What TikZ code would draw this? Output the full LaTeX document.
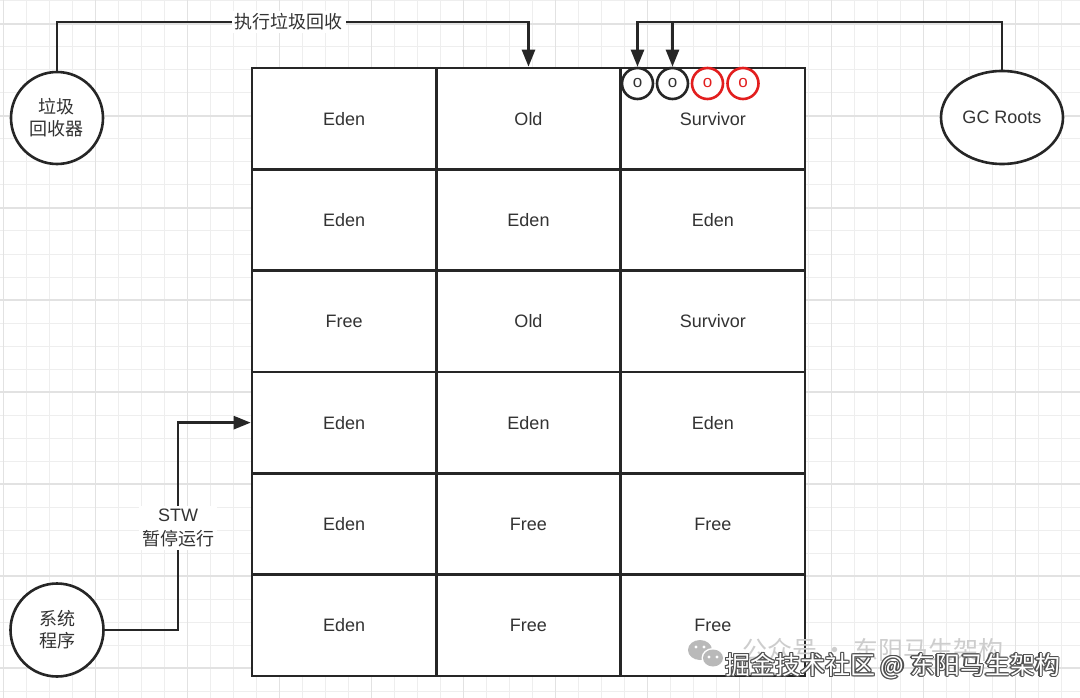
\documentclass[tikz,border=0pt]{standalone}
\usepackage{fontspec}
\setmainfont{Liberation Sans}
\newfontfamily\cjk{Noto Sans CJK SC}
\usetikzlibrary{arrows.meta,calc,shapes.geometric}
\definecolor{ink}{RGB}{38,38,38}
\definecolor{txt}{RGB}{51,51,51}
\definecolor{gcred}{RGB}{226,30,30}
\definecolor{gridminor}{RGB}{238,238,238}
\definecolor{gridmajor}{RGB}{226,226,226}
\definecolor{wmgrey}{RGB}{205,205,205}
\definecolor{wmdark}{RGB}{80,80,80}
\definecolor{wmicon}{RGB}{185,185,185}
\tikzset{
  cell/.style={rectangle, draw=ink, line width=2.6pt, fill=white,
    minimum width=184.33pt, minimum height=101.33pt, inner sep=0pt,
    font=\fontsize{18}{21}\selectfont, text=txt},
  conn/.style={draw=ink, line width=2.6pt, -{Triangle[length=17pt,width=13pt]}},
  bigcirc/.style={circle, draw=ink, line width=2.6pt, fill=white, inner sep=0pt,
    align=center, font=\cjk\fontsize{18}{22}\selectfont, text=txt},
  smallcirc/.style={circle, draw=ink, line width=2.6pt, fill=white, inner sep=0pt,
    minimum size=31pt, font=\fontsize{17}{17}\selectfont, text=txt},
  redcirc/.style={smallcirc, draw=gcred, text=gcred},
  lbl/.style={fill=white, inner sep=3pt, text=txt, align=center,
    font=\cjk\fontsize{18}{24}\selectfont},
  wmtext/.style={anchor=west, inner sep=0pt, font=\cjk\fontsize{25}{27}\selectfont}
}
\begin{document}
\begin{tikzpicture}[x=1pt,y=-1pt]
\useasboundingbox (0,0) rectangle (1080,698);
\fill[white] (0,0) rectangle (1080,698);
% background grid
\foreach \i in {0,...,46} \draw[gridminor, line width=1pt] ({3.7+23*\i},0) -- ++(0,698);
\foreach \i in {0,...,30} \draw[gridminor, line width=1pt] (0,{1+23*\i}) -- ++(1080,0);
\foreach \i in {0,...,11} \draw[gridmajor, line width=1.4pt] ({3.7+92*\i},0) -- ++(0,698);
\foreach \i in {0,...,7} \draw[gridmajor, line width=1.4pt] (0,{24+92*\i}) -- ++(1080,0);

% heap regions
\foreach \r/\a/\b/\c in {1/Eden/Old/Survivor, 2/Eden/Eden/Eden, 3/Free/Old/Survivor,
    4/Eden/Eden/Eden, 5/Eden/Free/Free, 6/Eden/Free/Free} {
  \node[cell] (c\r1) at (344.17, {68+101.33*\r-50.67}) {\a};
  \node[cell] (c\r2) at (528.5, {68+101.33*\r-50.67}) {\b};
  \node[cell] (c\r3) at (712.83, {68+101.33*\r-50.67}) {\c};
}

% objects in survivor
\node[smallcirc] (o1) at (637.5,83.5) {o};
\node[smallcirc] (o2) at (672.5,83.5) {o};
\node[redcirc] (o3) at (707.5,83.5) {o};
\node[redcirc] (o4) at (743,83.5) {o};

% side nodes
\node[bigcirc, minimum size=92pt] (gcol) at (57,118) {垃圾\\回收器};
\node[ellipse, draw=ink, line width=2.6pt, fill=white, minimum width=122pt,
  minimum height=93pt, inner sep=0pt, font=\fontsize{18}{21}\selectfont, text=txt]
  (gcr) at (1002,117.5) {GC Roots};
\node[bigcirc, minimum size=93pt] (sys) at (57,630) {系统\\程序};

\coordinate (topy) at (0,22);
\coordinate (kx) at (178,0);

% connectors
\draw[conn] (gcol.north) |- node[lbl, pos=0.746] {执行垃圾回收} (c12.north |- topy) -- (c12.north);
\draw[conn] (gcr.north) |- (o1.north |- topy) -- (o1.north);
\draw[conn] (o2.north |- topy) -- (o2.north);
\draw[conn] (sys.east) -| node[lbl, pos=0.745] {{\fontspec{Liberation Sans}STW}\\暂停运行} (kx |- c41.west) -- (c41.west);

% watermark
\fill[wmicon] (700,650) ellipse (12 and 10);
\fill[white] (713,658) ellipse (11.5 and 10);
\fill[wmicon] (713,658) ellipse (10 and 8.5);
\foreach \px/\py in {696/647, 704/647, 709/657, 717/657} \fill[white] (\px,\py) circle (1.6);
\node[wmtext, text=wmgrey] (wm1) at (742,650) {公众号 · 东阳马生架构};
\foreach \dx/\dy in {-1.2/0, 1.2/0, 0/-1.2, 0/1.2, -0.9/-0.9, 0.9/0.9, -0.9/0.9, 0.9/-0.9}
  \node[wmtext, text=wmdark] at ({725+\dx},{666+\dy}) {掘金技术社区 @ 东阳马生架构};
\node[wmtext, text=white] (wm2) at (725,666) {掘金技术社区 @ 东阳马生架构};
\end{tikzpicture}
\end{document}
